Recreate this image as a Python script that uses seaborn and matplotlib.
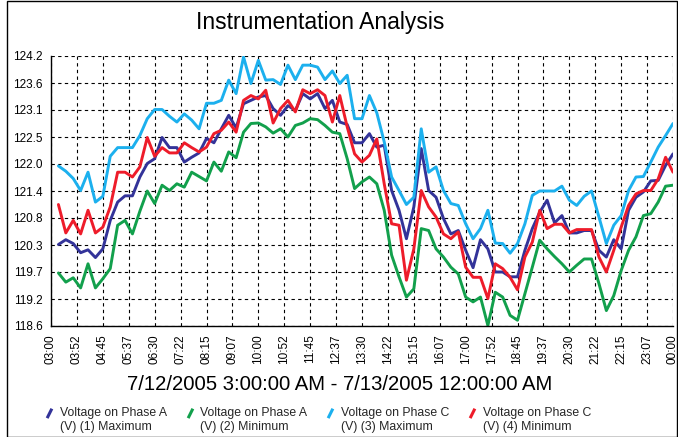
import pandas as pd
import seaborn as sns
import matplotlib
matplotlib.use('Agg')
from matplotlib import pyplot as plt
from matplotlib.lines import Line2D
from matplotlib.patches import Rectangle
from matplotlib.path import Path

# 15 minute samples, 03:15 -> 00:00
times = pd.date_range('2005-07-12 03:15', periods=84, freq='15min')

phase_a_max = [120.29, 120.39, 120.31, 120.12, 120.18, 120.02, 120.20, 120.79, 121.17, 121.30, 121.30, 121.69, 121.97, 122.07, 122.51, 122.30, 122.30,
               122.00, 122.10, 122.19, 122.49, 122.40, 122.69, 122.97, 122.71, 123.21, 123.28, 123.35, 123.38, 123.11, 122.97, 123.17, 123.07,
               123.42, 123.31, 123.42, 123.11, 123.28, 122.83, 122.78, 122.40, 122.40, 122.59, 122.31, 122.35, 121.41, 121.00, 120.41, 121.07, 122.28,
               121.41, 121.27, 120.83, 120.51, 120.58, 120.17, 119.81, 120.39, 120.20, 119.72, 119.72, 119.62, 119.62, 120.17, 120.62, 120.96, 121.21,
               120.74, 120.89, 120.53, 120.53, 120.58, 120.58, 120.17, 120.03, 120.39, 120.20, 121.00, 121.27, 121.38, 121.61, 121.62, 121.93, 122.17]
phase_a_min = [119.70, 119.51, 119.60, 119.39, 119.89, 119.39, 119.58, 119.79, 120.69, 120.79, 120.51, 120.98, 121.40, 121.14, 121.52, 121.41, 121.55,
               121.48, 121.79, 121.70, 121.61, 122.00, 121.81, 122.21, 122.09, 122.62, 122.80, 122.81, 122.73, 122.60, 122.69, 122.52, 122.76,
               122.81, 122.90, 122.88, 122.76, 122.62, 122.59, 122.07, 121.45, 121.59, 121.69, 121.55, 121.00, 120.07, 119.62, 119.20, 119.37, 120.62,
               120.58, 120.20, 120.03, 119.82, 119.68, 119.20, 119.10, 119.20, 118.61, 119.30, 119.20, 118.82, 118.72, 119.27, 119.82, 120.38, 120.20,
               120.04, 119.89, 119.72, 119.86, 119.99, 119.99, 119.48, 118.92, 119.23, 119.75, 120.17, 120.45, 120.89, 120.93, 121.17, 121.50, 121.52]
phase_c_max = [121.92, 121.81, 121.66, 121.41, 121.79, 121.17, 121.29, 122.12, 122.30, 122.30, 122.30, 122.55, 122.90, 123.09, 123.09, 122.95, 122.83,
               123.00, 122.87, 122.69, 123.22, 123.22, 123.28, 123.70, 123.42, 124.18, 123.63, 124.11, 123.70, 123.71, 123.61, 124.01, 123.71,
               124.01, 124.01, 123.97, 123.71, 123.89, 123.63, 123.80, 122.90, 122.90, 123.38, 123.02, 122.42, 121.69, 121.41, 121.12, 121.27, 122.69,
               121.79, 121.90, 121.41, 121.14, 121.10, 120.72, 120.41, 120.62, 121.00, 120.32, 120.31, 120.11, 120.31, 120.72, 121.31, 121.40, 121.40,
               121.40, 121.50, 121.21, 121.10, 121.29, 121.40, 120.86, 120.31, 120.69, 120.89, 121.41, 121.69, 121.70, 122.00, 122.31, 122.55, 122.80]
phase_c_min = [121.12, 120.53, 120.79, 120.51, 121.00, 120.53, 120.65, 121.07, 121.79, 121.79, 121.69, 121.90, 122.51, 122.12, 122.30, 122.19, 122.19,
               122.40, 122.30, 122.21, 122.31, 122.59, 122.66, 122.83, 122.62, 123.28, 123.38, 123.31, 123.49, 122.81, 123.11, 123.28, 123.04,
               123.50, 123.42, 123.50, 123.38, 122.83, 123.38, 122.73, 122.17, 122.00, 122.14, 122.48, 121.55, 120.72, 120.69, 119.55, 120.20, 121.41,
               121.07, 120.86, 120.51, 120.41, 120.55, 119.82, 119.61, 119.61, 119.17, 119.89, 119.79, 119.61, 119.35, 120.03, 120.34, 121.00, 120.62,
               120.71, 120.71, 120.53, 120.60, 120.60, 120.60, 120.03, 119.72, 120.17, 120.65, 121.10, 121.34, 121.41, 121.41, 121.65, 122.10, 121.79]

series_names = ['Voltage on Phase A\n(V) (1) Maximum', 'Voltage on Phase A\n(V) (2) Minimum',
                'Voltage on Phase C\n(V) (3) Maximum', 'Voltage on Phase C\n(V) (4) Minimum']
colors = ['#333399', '#12a04c', '#1cb0ee', '#ee1c2a']

ytick_values = [118.6, 119.16, 119.72, 120.28, 120.84, 121.4, 121.96, 122.52, 123.08, 123.64, 124.2]
ytick_labels = ['118.6', '119.2', '119.7', '120.3', '120.8', '121.4', '122.0', '122.5', '123.1', '123.6', '124.2']
xtick_labels = ['03:00', '03:52', '04:45', '05:37', '06:30', '07:22', '08:15', '09:07', '10:00', '10:52', '11:45', '12:37', '13:30',
                '14:22', '15:15', '16:07', '17:00', '17:52', '18:45', '19:37', '20:30', '21:22', '22:15', '23:07', '00:00']
x_start = pd.Timestamp('2005-07-12 03:00')
x_end = pd.Timestamp('2005-07-13 00:00')


if __name__ == '__main__':

    sns.set_theme(style='white')
    plt.rcParams['font.family'] = ['Liberation Sans', 'DejaVu Sans']

    df = pd.DataFrame({'time': list(times) * 4,
                       'value': phase_a_max + phase_a_min + phase_c_max + phase_c_min,
                       'series': [s for s in series_names for _ in range(len(times))]})

    fig = plt.figure(figsize=(6.78, 4.37), dpi=100)
    ax = fig.add_axes([51 / 678, 1 - 326 / 437, 622 / 678, 270 / 437])

    sns.lineplot(data=df, x='time', y='value', hue='series', hue_order=series_names,
                 palette=colors, linewidth=2.1, legend=False, ax=ax)

    ax.set_xlim(x_start, x_end)
    ax.set_ylim(118.6, 124.2)
    xticks = pd.date_range(x_start, x_end, periods=len(xtick_labels))
    ax.set_xticks(xticks)
    ax.set_xticklabels(xtick_labels, rotation=90, fontsize=8.5)
    ax.set_yticks(ytick_values)
    ax.set_yticklabels(ytick_labels, fontsize=8.5)
    ax.tick_params(axis='both', direction='out', length=4, width=1, color='black', pad=2, colors='black')

    ax.grid(True, color='black', linestyle=(0, (3, 3)), linewidth=0.8)
    for side in ['top', 'right']:
        ax.spines[side].set_visible(False)
    for side in ['left', 'bottom']:
        ax.spines[side].set_color('black')
        ax.spines[side].set_linewidth(1)

    ax.set_xlabel('')
    ax.set_ylabel('')
    fig.text(340 / 678, 1 - 384 / 437, '7/12/2005 3:00:00 AM - 7/13/2005 12:00:00 AM',
             ha='center', va='center', fontsize=14.6, color='black')
    fig.text(320 / 678, 1 - 22 / 437, 'Instrumentation Analysis', ha='center', va='center', fontsize=16.5, color='black')

    # slanted stroke, sitting at the first text line
    slash = Path([(-0.2, 0.2), (0.2, 1.0)], [Path.MOVETO, Path.LINETO])
    handles = [Line2D([], [], linestyle='none', marker=slash, markersize=17,
                      markeredgewidth=2.2, markeredgecolor=c, markerfacecolor='none') for c in colors]
    leg = fig.legend(handles, series_names, ncol=4, loc='upper left', bbox_to_anchor=(43 / 678, 1 - 407 / 437),
                     frameon=False, fontsize=8.8, handlelength=1.0, handletextpad=0.35, columnspacing=1.4,
                     borderpad=0, borderaxespad=0)
    for t in leg.get_texts():
        t.set_linespacing(1.25)

    fig.add_artist(Rectangle((7 / 678, 0.5 / 437), 670 / 678, 436 / 437, transform=fig.transFigure,
                             fill=False, edgecolor='black', linewidth=1))

    fig.savefig('out.png', dpi=100)
